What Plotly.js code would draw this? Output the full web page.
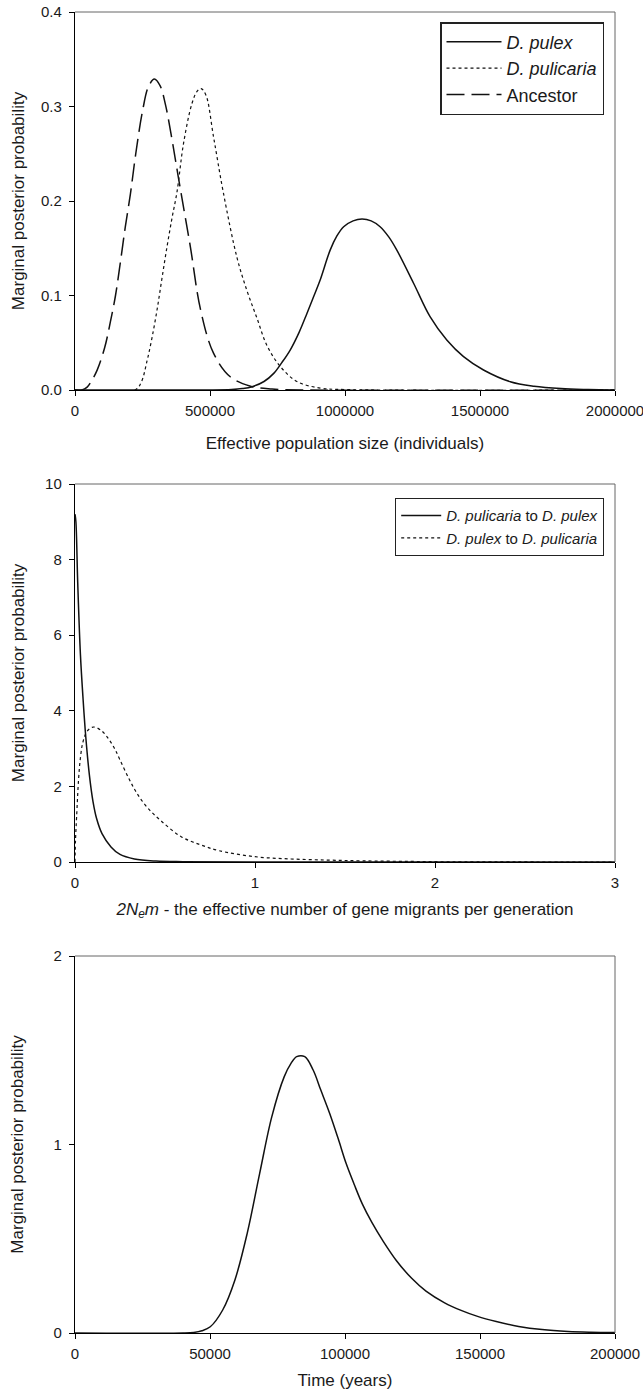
<!DOCTYPE html>
<html>
<head>
<meta charset="utf-8">
<script src="https://cdn.plot.ly/plotly-3.0.1.min.js"></script>
<style>html,body{margin:0;padding:0;background:#fff;}#chart{width:643px;height:1392px;}</style>
</head>
<body>
<div id="chart"></div>
<script>
// ---------- Panel 1: effective population size ----------
const pulexX = [0, 500000, 580000, 620000, 656000, 700000, 736000, 766000, 797000, 830000, 859000, 884000, 908000, 945000, 970000, 995000, 1030000, 1063000, 1097000, 1130000, 1162000, 1192000, 1254000, 1315000, 1377000, 1439000, 1513000, 1612000, 1700000, 1800000, 1900000, 2000000];
const pulexY = [0, 0, 0.0005, 0.0015, 0.0035, 0.009, 0.0176, 0.029, 0.0423, 0.061, 0.081, 0.099, 0.1164, 0.148, 0.163, 0.1728, 0.179, 0.181, 0.179, 0.1728, 0.162, 0.148, 0.113, 0.0776, 0.0529, 0.0353, 0.0212, 0.0088, 0.004, 0.0015, 0.0005, 0];
const pulicariaX = [0, 222000, 245000, 267000, 285000, 304000, 322000, 341000, 360000, 378000, 402000, 433000, 452000, 467000, 485000, 513000, 550000, 600000, 637000, 674000, 711000, 760000, 822000, 908000, 1000000, 2000000];
const pulicariaY = [0, 0, 0.008, 0.031, 0.055, 0.085, 0.118, 0.152, 0.183, 0.21, 0.261, 0.303, 0.316, 0.319, 0.312, 0.268, 0.208, 0.14, 0.105, 0.076, 0.047, 0.025, 0.009, 0.002, 0.0005, 0];
const ancestorX = [0, 25000, 45000, 60000, 82000, 110000, 131000, 150000, 168000, 186000, 205000, 225000, 250000, 272000, 294000, 315000, 335000, 355000, 387000, 427000, 465000, 513000, 575000, 650000, 730000, 850000, 2000000];
const ancestorY = [0, 0, 0.003, 0.009, 0.021, 0.045, 0.072, 0.1, 0.135, 0.172, 0.207, 0.25, 0.295, 0.321, 0.329, 0.322, 0.302, 0.272, 0.218, 0.152, 0.085, 0.039, 0.014, 0.004, 0.001, 0, 0];
const p1Names = ['<i>D. pulex</i>', '<i>D. pulicaria</i>', 'Ancestor'];
const p1XTicks = [0, 500000, 1000000, 1500000, 2000000];
const p1YTicks = [0, 0.1, 0.2, 0.3, 0.4];
const p1YTickText = ['0.0', '0.1', '0.2', '0.3', '0.4'];

// ---------- Panel 2: migration rates ----------
const m1X = [0, 0.005, 0.015, 0.03, 0.045, 0.06, 0.08, 0.1, 0.12, 0.15, 0.2, 0.25, 0.33, 0.45, 0.6, 1, 3];
const m1Y = [9.2, 9.0, 7.4, 5.5, 4.3, 3.3, 2.3, 1.6, 1.15, 0.75, 0.4, 0.2, 0.08, 0.025, 0.008, 0, 0];
const m2X = [0, 0.003, 0.009, 0.02, 0.03, 0.043, 0.066, 0.1, 0.14, 0.18, 0.22, 0.25, 0.3, 0.34, 0.4, 0.48, 0.59, 0.7, 0.8, 1.0, 1.2, 1.41, 1.6, 1.87, 2.1, 3];
const m2Y = [0, 0.6, 1.2, 2.2, 2.75, 3.15, 3.45, 3.57, 3.5, 3.3, 3.0, 2.7, 2.2, 1.85, 1.45, 1.08, 0.67, 0.45, 0.3, 0.14, 0.08, 0.05, 0.03, 0.015, 0.005, 0];
const p2Names = ['<i>D. pulicaria</i> to <i>D. pulex</i>', '<i>D. pulex</i> to <i>D. pulicaria</i>'];
const p2XTicks = [0, 1, 2, 3];
const p2YTicks = [0, 2, 4, 6, 8, 10];

// ---------- Panel 3: divergence time ----------
const timeX = [0, 40000, 44000, 47000, 50100, 54700, 59200, 63800, 68400, 72900, 77500, 80000, 82100, 85100, 88200, 91000, 94300, 97500, 100400, 103500, 106400, 110000, 114000, 119000, 124700, 130000, 136900, 143000, 149100, 156000, 164300, 173000, 182600, 191000, 200000];
const timeY = [0, 0, 0.003, 0.012, 0.033, 0.122, 0.28, 0.53, 0.847, 1.148, 1.36, 1.43, 1.466, 1.466, 1.395, 1.29, 1.166, 1.03, 0.9, 0.785, 0.685, 0.585, 0.49, 0.385, 0.29, 0.222, 0.16, 0.12, 0.088, 0.061, 0.035, 0.018, 0.008, 0.004, 0.002];
const p3XTicks = [0, 50000, 100000, 150000, 200000];
const p3YTicks = [0, 1, 2];

const yTitle = 'Marginal posterior probability';
const xTitles = ['Effective population size (individuals)',
  '<i>2N<sub>e</sub>m</i> - the effective number of gene migrants per generation',
  'Time (years)'];

// ---------- layout geometry (pixels) ----------
const W = 643, H = 1392;
const M = {l: 75, r: 28, t: 12, b: 59};
const plotH = H - M.t - M.b;
const plotW = W - M.l - M.r;
function dom(topPx, botPx) { return [(H - M.b - botPx) / plotH, (H - M.b - topPx) / plotH]; }

const FONT = 'Liberation Sans, Arial, sans-serif';
const TXT = '#1a1a1a';

const traces = [
  {x: pulexX, y: pulexY, name: p1Names[0], mode: 'lines', line: {color: '#111', width: 1.5, shape: 'spline'}, xaxis: 'x', yaxis: 'y', legend: 'legend'},
  {x: pulicariaX, y: pulicariaY, name: p1Names[1], mode: 'lines', line: {color: '#111', width: 1.2, dash: 'dot', shape: 'spline'}, xaxis: 'x', yaxis: 'y', legend: 'legend'},
  {x: ancestorX, y: ancestorY, name: p1Names[2], mode: 'lines', line: {color: '#111', width: 1.5, dash: '18px,7px', shape: 'spline'}, xaxis: 'x', yaxis: 'y', legend: 'legend'},
  {x: m1X, y: m1Y, name: p2Names[0], mode: 'lines', line: {color: '#111', width: 1.5, shape: 'spline'}, xaxis: 'x2', yaxis: 'y2', legend: 'legend2'},
  {x: m2X, y: m2Y, name: p2Names[1], mode: 'lines', line: {color: '#111', width: 1.2, dash: 'dot', shape: 'spline'}, xaxis: 'x2', yaxis: 'y2', legend: 'legend2'},
  {x: timeX, y: timeY, name: 'Time', mode: 'lines', line: {color: '#111', width: 1.5, shape: 'spline'}, xaxis: 'x3', yaxis: 'y3', showlegend: false}
];

function xAxis(anchor, range, ticks, title, standoff) {
  return {
    anchor: anchor, domain: [0, 1], range: range, tickvals: ticks, ticktext: ticks.map(String),
    ticks: 'outside', ticklen: 5, tickwidth: 1, tickcolor: '#000', ticklabelstandoff: 2,
    ticklabeloverflow: 'allow',
    showline: true, linecolor: '#000', linewidth: 1.2, zeroline: false, showgrid: false,
    tickfont: {family: FONT, size: 15, color: TXT},
    title: {text: title, font: {family: FONT, size: 17, color: TXT}, standoff: standoff},
    fixedrange: true
  };
}
function yAxis(anchor, domain, range, ticks, ticktext, standoff) {
  return {
    anchor: anchor, domain: domain, range: range, tickvals: ticks, ticktext: ticktext,
    ticks: 'outside', ticklen: 5, tickwidth: 1, tickcolor: '#000', ticklabelstandoff: 4,
    showline: true, linecolor: '#000', linewidth: 1.2, zeroline: false, showgrid: false,
    tickfont: {family: FONT, size: 15, color: TXT},
    title: {text: yTitle, font: {family: FONT, size: 17, color: TXT}, standoff: standoff},
    fixedrange: true
  };
}

function frame(xa, ya) {
  return [
    {type: 'line', xref: xa + ' domain', yref: ya + ' domain', x0: 0, x1: 1, y0: 1, y1: 1, line: {color: '#666', width: 1}},
    {type: 'line', xref: xa + ' domain', yref: ya + ' domain', x0: 1, x1: 1, y0: 0, y1: 1, line: {color: '#666', width: 1}}
  ];
}

const d1 = dom(12, 390), d2 = dom(484, 862), d3 = dom(956, 1333);

const layout = {
  width: W, height: H, margin: M,
  paper_bgcolor: '#fff', plot_bgcolor: '#fff',
  font: {family: FONT, color: TXT},
  xaxis: xAxis('y', [0, 2000000], p1XTicks, xTitles[0], 18),
  yaxis: yAxis('x', d1, [0, 0.4], p1YTicks, p1YTickText, 12),
  xaxis2: xAxis('y2', [0, 3], p2XTicks, xTitles[1], 12),
  yaxis2: yAxis('x2', d2, [0, 10], p2YTicks, p2YTicks.map(String), 16),
  xaxis3: xAxis('y3', [0, 200000], p3XTicks, xTitles[2], 12),
  yaxis3: yAxis('x3', d3, [0, 2], p3YTicks, p3YTicks.map(String), 25),
  shapes: [].concat(frame('x', 'y'), frame('x2', 'y2'), frame('x3', 'y3')),
  legend: {
    x: (604 - M.l) / plotW, xanchor: 'right', y: (H - M.b - 22) / plotH, yanchor: 'top',
    bgcolor: '#fff', bordercolor: '#222', borderwidth: 1.5,
    font: {family: FONT, size: 18, color: TXT}, itemwidth: 55, tracegroupgap: 0
  },
  legend2: {
    x: (604 - M.l) / plotW, xanchor: 'right', y: (H - M.b - 498) / plotH, yanchor: 'top',
    bgcolor: '#fff', bordercolor: '#222', borderwidth: 1.2,
    font: {family: FONT, size: 15, color: TXT}, itemwidth: 40, tracegroupgap: 0
  },
  showlegend: true
};

Plotly.newPlot('chart', traces, layout, {displayModeBar: false, staticPlot: true});
</script>
</body>
</html>
